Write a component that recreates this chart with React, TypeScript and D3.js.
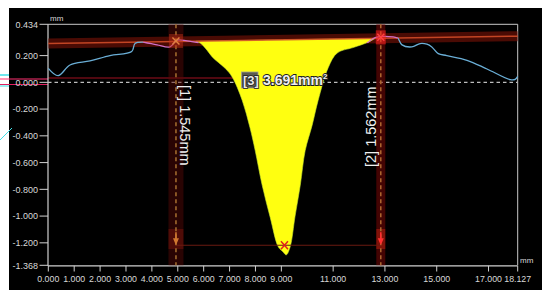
import React from "react";
import * as d3 from "d3";

const xTicks = [0, 1, 2, 3, 4, 5, 6, 7, 8, 9, 11, 13, 15, 17, 18.127];
const yTicks = [0.434, 0.2, 0, -0.2, -0.4, -0.6, -0.8, -1.0, -1.2, -1.368];

const profileX = [0.0, 0.38, 0.84, 1.61, 2.38, 3.22, 3.35, 3.66, 4.2, 4.7, 4.96, 5.36, 5.86, 6.13, 6.33, 6.56, 6.83, 7.1, 7.49, 7.79, 7.99, 8.26, 8.57, 8.88, 9.05, 9.19, 9.34, 9.53, 9.73, 9.92, 10.19, 10.42, 10.81, 11.16, 11.77, 12.35, 12.62, 13.32, 13.51, 13.66, 14.04, 14.36, 14.62, 14.81, 15.06, 15.39, 16.17, 16.94, 17.84, 18.03, 18.127];
const profileY = [0.105, 0.05, 0.13, 0.16, 0.2, 0.23, 0.29, 0.3, 0.28, 0.265, 0.315, 0.31, 0.295, 0.24, 0.19, 0.15, 0.105, 0.04, -0.135, -0.34, -0.51, -0.77, -1.01, -1.23, -1.265, -1.29, -1.23, -1.0, -0.77, -0.51, -0.32, -0.135, 0.11, 0.22, 0.26, 0.3, 0.335, 0.34, 0.33, 0.28, 0.265, 0.29, 0.285, 0.265, 0.215, 0.2, 0.165, 0.1, 0.02, 0.022, 0.045];

const refLineX = [0, 18.127];
const refLineY = [0.29, 0.345];

const markerX = [4.93, 12.84];
const markerLabels = ["[1] 1.545mm", "[2] 1.562mm"];
const areaLabelTag = "[3]";
const areaLabelValue = "3.691mm";
const depthPoint = [9.12, -1.218];

const W = 550;
const H = 299;

export default function App() {
  const x = d3.scaleLinear().domain([0, 18.127]).range([48.3, 517.7]);
  const y = d3.scaleLinear().domain([-1.368, 0.434]).range([265.3, 24.3]);

  const pts = profileX.map((v, i) => ({ x: v, y: profileY[i] }));
  const refAt = (v: number) =>
    refLineY[0] + ((v - refLineX[0]) / (refLineX[1] - refLineX[0])) * (refLineY[1] - refLineY[0]);
  const curveAt = (v: number) => {
    for (let i = 0; i < profileX.length - 1; i++) {
      if (v >= profileX[i] && v <= profileX[i + 1]) {
        const t = (v - profileX[i]) / (profileX[i + 1] - profileX[i]);
        return profileY[i] + t * (profileY[i + 1] - profileY[i]);
      }
    }
    return profileY[profileY.length - 1];
  };

  const line = d3
    .line<{ x: number; y: number }>()
    .x((d) => x(d.x))
    .y((d) => y(d.y))
    .curve(d3.curveCatmullRom.alpha(0.5));

  const seg = (a: number, b: number) => {
    const s = pts.filter((p) => p.x > a && p.x < b);
    return [{ x: a, y: curveAt(a) }, ...s, { x: b, y: curveAt(b) }];
  };

  const fillStart = 5.7;
  const fillEnd = 12.62;
  const fillPts = seg(fillStart, fillEnd);
  const area = d3
    .area<{ x: number; y: number }>()
    .x((d) => x(d.x))
    .y0((d) => y(refAt(d.x)))
    .y1((d) => y(Math.min(d.y, refAt(d.x))))
    .curve(d3.curveCatmullRom.alpha(0.5));

  const y0 = y(0);
  const mx1 = x(markerX[0]);
  const mx2 = x(markerX[1]);
  const depthY = y(depthPoint[1]);
  const font = "'Liberation Sans', Arial, sans-serif";

  return (
    <svg
      width={W}
      height={H}
      style={{ position: "absolute", left: 0, top: 0, background: "#fff" }}
      fontFamily={font}
    >
      <rect x={9} y={8} width={533} height={282} fill="#000" />

      {/* glitch artifacts on the left */}
      <line x1={0} x2={9} y1={75} y2={75} stroke="#40e0e8" strokeWidth={1.5} />
      <line x1={0} x2={9} y1={86} y2={86} stroke="#40e0e8" strokeWidth={1} />
      <line x1={0} x2={48} y1={79} y2={79} stroke="#ff3070" strokeWidth={1.2} />
      <line x1={0} x2={48} y1={84.5} y2={84.5} stroke="#e02060" strokeWidth={1.2} />
      <line x1={48} x2={258} y1={78} y2={78} stroke="#a01020" strokeWidth={1} />
      <line x1={0} x2={12} y1={140} y2={128} stroke="#40e0e8" strokeWidth={1} />

      {/* plot frame */}
      <line x1={48} x2={517.7} y1={24.3} y2={24.3} stroke="#c8c8c8" strokeWidth={1} />
      <line x1={517.7} x2={517.7} y1={24.3} y2={265.3} stroke="#c8c8c8" strokeWidth={1} />
      <line x1={48} x2={48} y1={24.3} y2={265.8} stroke="#d0d0d0" strokeWidth={1.2} />
      <line x1={48} x2={517.7} y1={265.8} y2={265.8} stroke="#d0d0d0" strokeWidth={1.2} />

      {yTicks.map((t) => (
        <g key={"y" + t}>
          <line x1={39.5} x2={48} y1={y(t)} y2={y(t)} stroke="#d0d0d0" strokeWidth={1} />
          <text x={38} y={y(t) + 3.2} fontSize={9} fill="#d8d8d8" textAnchor="end">
            {t.toFixed(3)}
          </text>
        </g>
      ))}
      {xTicks.map((t) => (
        <g key={"x" + t}>
          <line x1={x(t)} x2={x(t)} y1={265.8} y2={271.5} stroke="#d0d0d0" strokeWidth={1} />
          <text x={x(t)} y={282} fontSize={8.8} fill="#d8d8d8" textAnchor="middle">
            {t.toFixed(3)}
          </text>
        </g>
      ))}
      <text x={50} y={20.5} fontSize={8} fill="#d8d8d8">mm</text>
      <text x={520} y={263} fontSize={8} fill="#d8d8d8">mm</text>

      <line x1={48} x2={517.7} y1={y0} y2={y0} stroke="#bdbdbd" strokeWidth={1.3} strokeDasharray="3.5,3" />

      {/* vertical marker bands */}
      <rect x={mx1 - 7.5} y={24.3} width={15} height={241} fill="#5a0806" opacity={0.45} />
      <rect x={mx2 - 4.5} y={24.3} width={9} height={241} fill="#7a0806" opacity={0.55} />
      <rect x={mx1 - 7.5} y={229} width={15} height={20} fill="#8a1810" opacity={0.4} />
      <rect x={mx2 - 4.5} y={229} width={9} height={20} fill="#c02010" opacity={0.5} />

      {/* reference band */}
      <line
        x1={x(refLineX[0])}
        x2={x(refLineX[1])}
        y1={y(refLineY[0])}
        y2={y(refLineY[1])}
        stroke="#6a1006"
        strokeWidth={10}
        opacity={0.7}
      />

      <path d={area(fillPts) || ""} fill="#ffff10" stroke="#c8e830" strokeWidth={0.6} />

      <line
        x1={x(refLineX[0])}
        x2={x(refLineX[1])}
        y1={y(refLineY[0])}
        y2={y(refLineY[1])}
        stroke="#d8502a"
        strokeWidth={1.5}
        opacity={0.85}
      />

      {/* profile line */}
      <path d={line(seg(0, 3.66)) || ""} fill="none" stroke="#6aaed6" strokeWidth={1.3} />
      <path d={line(seg(3.66, 5.8)) || ""} fill="none" stroke="#d070c8" strokeWidth={1.3} />
      <path d={line(seg(12.3, 13.5)) || ""} fill="none" stroke="#d070c8" strokeWidth={1.3} />
      <path d={line(seg(13.5, 18.127)) || ""} fill="none" stroke="#6aaed6" strokeWidth={1.3} />

      <line x1={mx1} x2={mx2} y1={depthY} y2={depthY} stroke="#6a1a10" strokeWidth={1.2} />

      <line x1={mx1} x2={mx1} y1={24.3} y2={265.3} stroke="#a87030" strokeWidth={1.5} strokeDasharray="4,3" />
      <line x1={mx2} x2={mx2} y1={24.3} y2={265.3} stroke="#b06830" strokeWidth={1.5} strokeDasharray="4,3" />

      {/* top markers */}
      <rect x={mx1 - 7} y={y(curveAt(markerX[0])) - 7} width={14} height={14} fill="#c03018" opacity={0.45} />
      <rect x={mx2 - 5} y={y(curveAt(markerX[1])) - 7} width={10} height={14} fill="#ff2020" opacity={0.55} />
      {markerX.map((m, i) => {
        const cx = x(m);
        const cy = y(curveAt(m));
        return (
          <g key={"mk" + i} stroke={i === 0 ? "#e08040" : "#ff4040"} strokeWidth={1.4}>
            <line x1={cx - 3.5} x2={cx + 3.5} y1={cy - 3.5} y2={cy + 3.5} />
            <line x1={cx - 3.5} x2={cx + 3.5} y1={cy + 3.5} y2={cy - 3.5} />
          </g>
        );
      })}
      {markerX.map((m, i) => {
        const cx = x(m);
        return (
          <path
            key={"ar" + i}
            d={`M${cx - 3},${depthY - 7} L${cx + 3},${depthY - 7} L${cx},${depthY} Z M${cx - 0.8},${depthY - 13} h1.6 v6 h-1.6 Z`}
            fill={i === 0 ? "#d07830" : "#ff3030"}
          />
        );
      })}
      <g stroke="#e02020" strokeWidth={1.5}>
        <line x1={x(depthPoint[0]) - 3.5} x2={x(depthPoint[0]) + 3.5} y1={depthY - 4} y2={depthY + 4} />
        <line x1={x(depthPoint[0]) - 3.5} x2={x(depthPoint[0]) + 3.5} y1={depthY + 4} y2={depthY - 4} />
      </g>

      {/* marker labels */}
      <text transform={`translate(${mx1 + 4},85) rotate(90)`} fontSize={14.5} fill="#f0f0f0">
        {markerLabels[0]}
      </text>
      <text transform={`translate(${mx2 - 5},167) rotate(-90)`} fontSize={14.5} fill="#f0f0f0">
        {markerLabels[1]}
      </text>

      {/* area label */}
      <rect x={241.5} y={72} width={16.5} height={16} fill="#5a5a50" stroke="#a0a090" strokeWidth={0.8} />
      <text
        x={243}
        y={85}
        fontSize={13}
        fontWeight="bold"
        fill="#e8e8e8"
        stroke="#202020"
        strokeWidth={1.6}
        style={{ paintOrder: "stroke" }}
      >
        {areaLabelTag}
      </text>
      <text
        x={263}
        y={85}
        fontSize={14}
        fontWeight="bold"
        fill="#f0f0f0"
        stroke="#202020"
        strokeWidth={1.8}
        style={{ paintOrder: "stroke" }}
      >
        {areaLabelValue}
        <tspan fontSize={8} dy={-6}>2</tspan>
      </text>
    </svg>
  );
}
